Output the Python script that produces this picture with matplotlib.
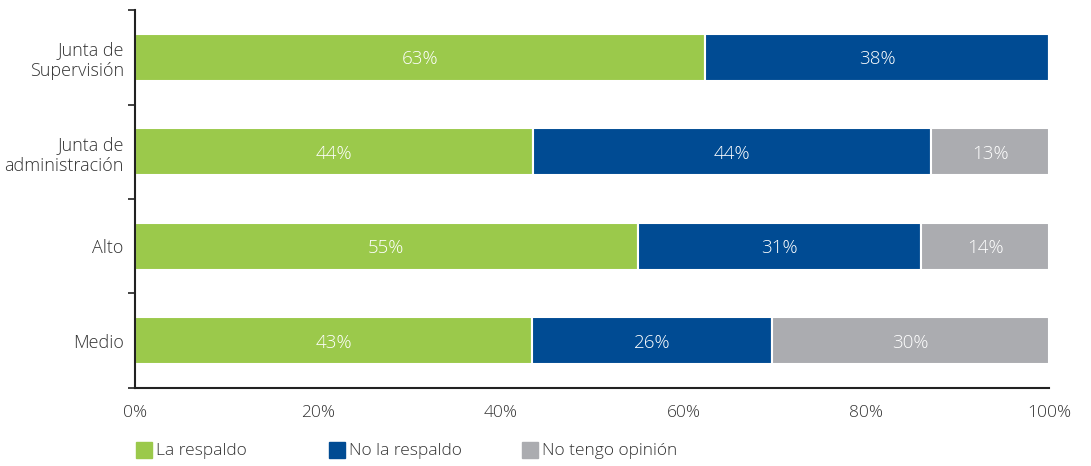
import numpy as np
import matplotlib
matplotlib.use('Agg')
import matplotlib.pyplot as plt
from matplotlib.patches import Rectangle

plt.rcParams['font.family'] = ['Open Sans', 'DejaVu Sans']
plt.rcParams['font.weight'] = 300

categories = ['Junta de\nSupervisión', 'Junta de\nadministración', 'Alto', 'Medio']
series = ['La respaldo', 'No la respaldo', 'No tengo opinión']
respaldo = [63, 44, 55, 43]
no_respaldo = [38, 44, 31, 26]
sin_opinion = [0, 13, 14, 30]
colors = ['#9BC94B', '#004B93', '#ABACB0']
xticks = [0, 20, 40, 60, 80, 100]

values = np.array([respaldo, no_respaldo, sin_opinion], dtype=float)
# rounded shares don't always add up to 100, so scale each row to fill the bar
shares = values / values.sum(axis=0) * 100

fig = plt.figure(figsize=(10.91, 4.66), dpi=100)
ax = fig.add_axes([0.1237, 0.1674, 0.8378, 0.8111])

y = np.arange(len(categories))
left = np.zeros(len(categories))
for i, name in enumerate(series):
    ax.barh(y, shares[i], left=left, height=0.5, color=colors[i],
            edgecolor='white', linewidth=1.5, label=name)
    for j in range(len(categories)):
        if values[i, j] > 0:
            ax.text(left[j] + shares[i, j] / 2, y[j] + 0.02, '%d%%' % values[i, j],
                    ha='center', va='center', color='white', fontsize=13.5)
    left += shares[i]

ax.set_xlim(0, 100)
ax.set_ylim(3.5, -0.5)
ax.set_xticks(xticks)
ax.set_xticklabels(['%d%%' % t for t in xticks], fontsize=12.5, color='#333333')
ax.set_yticks(y)
ax.set_yticklabels(categories, fontsize=13, color='#333333')
ax.set_yticks(np.arange(-0.5, len(categories)), minor=True)
ax.tick_params(axis='y', which='major', length=0, pad=8)
ax.tick_params(axis='y', which='minor', length=5, width=1.2, color='#222222')
ax.tick_params(axis='x', length=0, pad=12)
for s in ['top', 'right']:
    ax.spines[s].set_visible(False)
for s in ['left', 'bottom']:
    ax.spines[s].set_color('#222222')
    ax.spines[s].set_linewidth(1.5)

# legend: evenly spaced squares along the bottom
for i, name in enumerate(series):
    x0 = (136 + i * 193) / 1091
    fig.patches.append(Rectangle((x0, 1 - 458 / 466), 16 / 1091, 16 / 466,
                                 transform=fig.transFigure, color=colors[i]))
    fig.text(x0 + 20 / 1091, 1 - 451 / 466, name, va='center', ha='left',
             fontsize=12.5, color='#333333')

fig.savefig('out.png', dpi=100)
